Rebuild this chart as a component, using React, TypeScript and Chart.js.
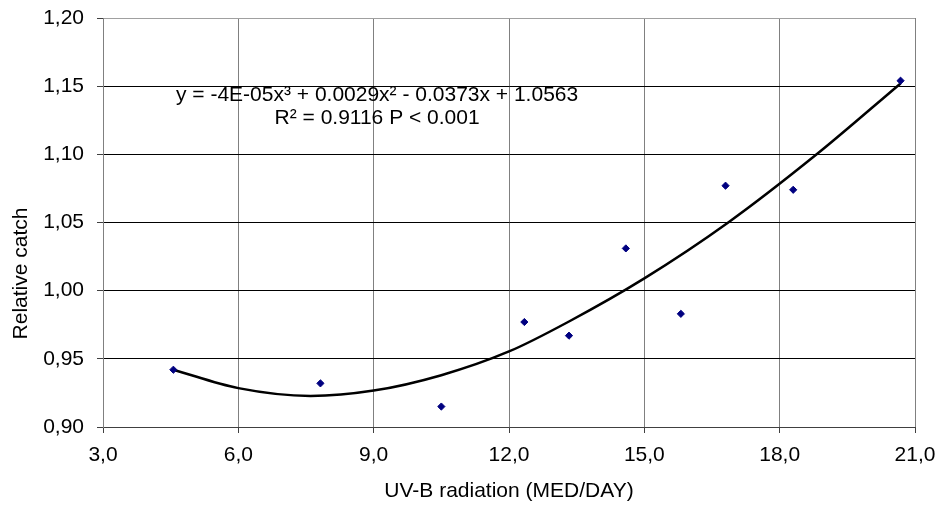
import React, { useEffect, useRef } from 'react';
import { Chart, registerables } from 'chart.js';

Chart.register(...registerables);

// Observed points (UV-B radiation, relative catch)
const uvB = [4.56, 7.82, 10.5, 12.34, 13.33, 14.59, 15.81, 16.8, 18.3, 20.68];
const relCatch = [0.942, 0.932, 0.915, 0.977, 0.967, 1.031, 0.983, 1.077, 1.074, 1.154];

// Trend curve
const trendX = [4.56, 6.0, 7.6, 9.0, 10.5, 12.0, 13.33, 15.0, 16.86, 18.82, 20.68];
const trendY = [0.942, 0.9285, 0.9228, 0.9267, 0.938, 0.9554, 0.9774, 1.009, 1.05, 1.1, 1.152];

const xTickLabels = ['3,0', '6,0', '9,0', '12,0', '15,0', '18,0', '21,0'];
const yTickLabels = ['0,90', '0,95', '1,00', '1,05', '1,10', '1,15', '1,20'];

const equationText = 'y = -4E-05x³ + 0.0029x² - 0.0373x + 1.0563';
const r2Text = 'R² = 0.9116 P < 0.001';
const xTitle = 'UV-B radiation (MED/DAY)';
const yTitle = 'Relative catch';

const FONT_FAMILY = '"Liberation Sans", Arial, sans-serif';
const FONT_SIZE = 21;

const textPlugin = {
  id: 'extraTexts',
  afterDatasetsDraw(chart: any) {
    const { ctx, chartArea } = chart;
    ctx.save();
    ctx.font = `${FONT_SIZE}px ${FONT_FAMILY}`;
    ctx.fillStyle = '#000';
    ctx.textBaseline = 'alphabetic';
    // trendline equation
    const x0 = chartArea.left + 73;
    const w = ctx.measureText(equationText).width;
    ctx.textAlign = 'left';
    ctx.fillText(equationText, x0, chartArea.top + 83);
    ctx.textAlign = 'center';
    ctx.fillText(r2Text, x0 + w / 2, chartArea.top + 106);
    // y-axis title
    ctx.translate(27, (chartArea.top + chartArea.bottom) / 2 + 51);
    ctx.rotate(-Math.PI / 2);
    ctx.textAlign = 'center';
    ctx.fillText(yTitle, 0, 0);
    ctx.restore();
  },
};

export default function App() {
  const canvasRef = useRef<HTMLCanvasElement | null>(null);

  useEffect(() => {
    document.body.style.margin = '0';
    const canvas = canvasRef.current;
    if (!canvas) return;
    Chart.defaults.font.family = FONT_FAMILY;
    Chart.defaults.font.size = FONT_SIZE;
    Chart.defaults.color = '#000';

    const chart = new Chart(canvas, {
      type: 'scatter',
      data: {
        datasets: [
          {
            label: 'Relative catch',
            data: uvB.map((x, i) => ({ x, y: relCatch[i] })),
            pointStyle: 'rectRot',
            pointRadius: 3.6,
            pointBackgroundColor: '#000080',
            pointBorderColor: '#000080',
            pointBorderWidth: 1,
            showLine: false,
          },
          {
            label: 'Trend',
            data: trendX.map((x, i) => ({ x, y: trendY[i] })),
            showLine: true,
            pointRadius: 0,
            borderColor: '#000',
            borderWidth: 2.5,
            cubicInterpolationMode: 'monotone',
            fill: false,
          },
        ],
      },
      options: {
        animation: false,
        responsive: true,
        maintainAspectRatio: false,
        events: [],
        layout: { padding: { top: 18, right: 26, bottom: 0, left: 0 } },
        plugins: {
          legend: { display: false },
          tooltip: { enabled: false },
        },
        scales: {
          x: {
            type: 'linear',
            min: 3,
            max: 21,
            afterFit: (s: any) => {
              s.height = 79;
              s.paddingLeft = 0;
              s.paddingRight = 0;
            },
            ticks: {
              stepSize: 3,
              padding: 10,
              color: '#000',
              callback: (_v: any, i: number) => xTickLabels[i],
            },
            grid: {
              color: '#808080',
              tickColor: '#404040',
              tickLength: 6,
              lineWidth: 1,
            },
            border: { color: '#404040', width: 1 },
            title: {
              display: true,
              text: xTitle,
              color: '#000',
              padding: { top: 0, bottom: 2 },
            },
          },
          y: {
            type: 'linear',
            min: 0.9,
            max: 1.2,
            afterFit: (s: any) => {
              s.width = 103;
              s.paddingTop = 0;
              s.paddingBottom = 0;
            },
            ticks: {
              stepSize: 0.05,
              padding: 13,
              color: '#000',
              callback: (_v: any, i: number) => yTickLabels[i],
            },
            grid: {
              color: (c: any) => (c.index === 6 ? '#a0a0a0' : c.index === 0 ? '#404040' : '#000'),
              tickColor: '#404040',
              tickLength: 6,
              lineWidth: 1,
            },
            border: { color: '#808080', width: 1 },
          },
        },
      } as any,
      plugins: [textPlugin],
    });

    return () => {
      chart.destroy();
    };
  }, []);

  return (
    <div style={{ position: 'absolute', left: 0, top: 0, width: 941, height: 506, background: '#fff' }}>
      <canvas ref={canvasRef} />
    </div>
  );
}
